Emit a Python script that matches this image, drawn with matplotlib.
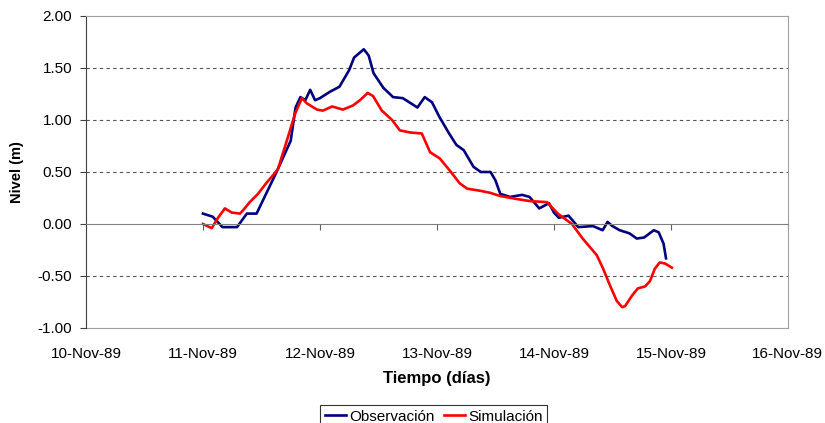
import numpy as np
import matplotlib
matplotlib.use("Agg")
import matplotlib.pyplot as plt
import matplotlib.dates as mdates

plt.rcParams["font.family"] = ["Liberation Sans", "DejaVu Sans"]

T0 = np.datetime64("1989-11-11T00:00")

# horas desde el 11-Nov-89 00:00 y nivel (m)
obs_horas = [0, 2, 4, 7, 9, 11, 15, 18, 19, 20, 21, 22, 23, 24, 26, 28, 30, 31,
             33, 34, 35, 37, 39, 41, 44, 45.5, 47, 48.5, 50.5, 52, 53.5, 55.5,
             57, 59, 60, 61, 63, 65.5, 67, 69, 71, 72, 73, 75, 77, 80, 82, 83,
             84, 85.5, 87.5, 89, 90.5, 92.5, 93.5, 94.5, 95]
obs_nivel = [0.10, 0.07, -0.03, -0.03, 0.10, 0.10, 0.49, 0.80, 1.12, 1.22,
             1.19, 1.29, 1.19, 1.21, 1.27, 1.32, 1.48, 1.60, 1.68, 1.62, 1.45,
             1.31, 1.22, 1.21, 1.12, 1.22, 1.17, 1.03, 0.87, 0.76, 0.71, 0.55,
             0.50, 0.50, 0.42, 0.29, 0.26, 0.28, 0.26, 0.15, 0.20, 0.11, 0.06,
             0.08, -0.03, -0.02, -0.06, 0.02, -0.02, -0.06, -0.09, -0.14,
             -0.13, -0.06, -0.08, -0.19, -0.33]

sim_horas = [0, 1.8, 3.1, 4.5, 5.9, 7.6, 8.2, 9.6, 11.3, 13.1, 14.4, 15.4, 17.2,
             18.9, 20.3, 21.3, 23.4, 24.6, 26.5, 28.7, 30.8, 32.2, 33.8, 34.9,
             36.7, 38.8, 40.4, 42.5, 44.9, 46.6, 48.6, 50.7, 52.7, 54.2, 56.8,
             58.9, 60.9, 64.4, 67.1, 70.6, 72.8, 75.7, 77.9, 80.8, 82.1, 83.5,
             84.9, 86.0, 86.6, 88.0, 89.2, 90.7, 91.7, 92.7, 93.7, 94.8, 96.2]
sim_nivel = [0.00, -0.04, 0.06, 0.15, 0.11, 0.10, 0.13, 0.21, 0.29, 0.40, 0.47,
             0.53, 0.80, 1.06, 1.21, 1.16, 1.10, 1.09, 1.13, 1.10, 1.14, 1.19,
             1.26, 1.23, 1.09, 1.00, 0.90, 0.88, 0.87, 0.69, 0.63, 0.51, 0.39,
             0.34, 0.32, 0.30, 0.27, 0.24, 0.22, 0.21, 0.10, 0.00, -0.14, -0.30,
             -0.43, -0.59, -0.74, -0.80, -0.79, -0.69, -0.62, -0.60, -0.55,
             -0.43, -0.37, -0.38, -0.42]

y_ticks = [-1.0, -0.5, 0.0, 0.5, 1.0, 1.5, 2.0]


def a_fechas(horas):
    minutos = (np.array(horas) * 60).round().astype("timedelta64[m]")
    return T0 + minutos


fig = plt.figure(figsize=(8.25, 4.23), dpi=100)
ax = fig.add_axes([0.1042, 0.2246, 0.8508, 0.7376])

ax.plot(a_fechas(obs_horas), obs_nivel, color="#000080", lw=1.9,
        solid_joinstyle="round", label="Observación")
ax.plot(a_fechas(sim_horas), sim_nivel, color="#ff0000", lw=1.9,
        solid_joinstyle="round", label="Simulación")

ax.set_xlim(np.datetime64("1989-11-10"), np.datetime64("1989-11-16"))
ax.set_ylim(-1.0, 2.0)
ax.set_yticks(y_ticks)
ax.set_yticklabels([f"{v:.2f}" for v in y_ticks], fontsize=11)

for v in [-0.5, 0.5, 1.0, 1.5]:
    ax.axhline(v, color="#555555", lw=0.8, ls=(0, (3, 3)), zorder=0)

# eje x en el cero, etiquetas abajo
ax.spines["bottom"].set_position(("data", 0))
ax.spines["bottom"].set_color("#808080")
ax.spines["left"].set_color("#404040")
ax.spines["top"].set_color("#a0a0a0")
ax.spines["right"].set_color("#a0a0a0")
ax.xaxis.set_major_locator(mdates.DayLocator())
ax.tick_params(axis="x", direction="out", length=4, color="#606060", labelbottom=False)
ax.tick_params(axis="y", direction="out", length=4, color="#404040", pad=6)

sec = ax.secondary_xaxis(0)
sec.xaxis.set_major_locator(mdates.DayLocator())
sec.xaxis.set_major_formatter(mdates.DateFormatter("%d-%b-%y"))
sec.tick_params(length=0, pad=14, labelsize=11)
sec.spines["bottom"].set_color("#a0a0a0")

ax.set_ylabel("Nivel (m)", fontsize=10.5, fontweight="bold", labelpad=10)
sec.set_xlabel("Tiempo (días)", fontsize=12, fontweight="bold", labelpad=7)

leg = fig.legend(loc="upper center", bbox_to_anchor=(0.526, 0.06), ncol=2,
                 fontsize=11, frameon=True, fancybox=False, handlelength=1.4,
                 handletextpad=0.2, columnspacing=0.6, borderpad=0.3)
leg.get_frame().set_edgecolor("#000000")
leg.get_frame().set_linewidth(0.8)

fig.savefig("out.png", dpi=100)
